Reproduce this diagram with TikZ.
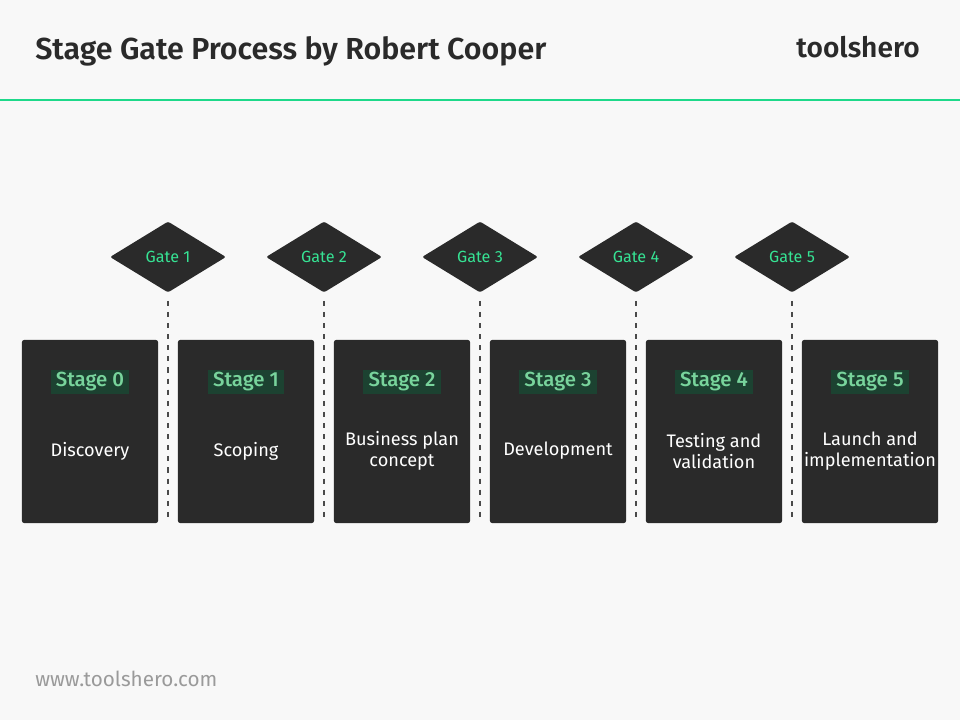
\documentclass[tikz,border=0pt]{standalone}
\usepackage{fontspec}
\setmainfont{Fira Sans}
\newfontfamily\semibold{Fira Sans SemiBold}
\newfontfamily\medium{Fira Sans Medium}
\usetikzlibrary{shapes.geometric}

\definecolor{bgpaper}{HTML}{F8F8F8}
\definecolor{darkbox}{HTML}{2A2A2A}
\definecolor{titlegray}{HTML}{2A2A2A}
\definecolor{shgreen}{HTML}{1ED98A}
\definecolor{gatetxt}{HTML}{36E394}
\definecolor{tagtxt}{HTML}{78D49C}
\definecolor{tagbg}{HTML}{1C4231}
\definecolor{linegray}{HTML}{4A4A4A}
\definecolor{urlgray}{HTML}{9A9A9A}

\begin{document}
\begin{tikzpicture}[x=0.025cm, y=-0.025cm,
  stagebox/.style={fill=darkbox, rounded corners=1.5pt, minimum width=3.4cm, minimum height=4.575cm, inner sep=0pt},
  gatebox/.style={diamond, fill=darkbox, rounded corners=1.5pt, minimum width=2.9cm, minimum height=1.775cm, aspect=1.63, inner sep=0pt, text=gatetxt, font=\fontsize{11.5}{13}\selectfont},
  stagetag/.style={fill=tagbg, text=tagtxt, inner xsep=0.13cm, inner ysep=0pt, minimum height=0.6cm, font=\fontsize{14.5}{16}\selectfont\medium},
  stagetext/.style={text=white, align=center, font=\fontsize{12.9}{15}\selectfont},
  gateline/.style={linegray, line width=1.4pt, dash pattern=on 3.6pt off 4.3pt}]
\fill[bgpaper] (0,0) rectangle (960,720);
\useasboundingbox (0,0) rectangle (960,720);

% header
\node[anchor=base west, inner sep=0pt, text=titlegray, font=\fontsize{21.6}{24}\selectfont\semibold] (title) at (35,60) {Stage Gate Process by Robert Cooper};
\node[anchor=base east, inner sep=0pt, text=titlegray, font=\fontsize{20}{24}\selectfont\semibold] (brand) at (920,58) {toolshero};
\draw[shgreen, line width=1.4pt] (0,100) -- (960,100);

% stages
\node[stagebox] (s0) at (90,431.5) {};
\node[stagebox] (s1) at (246,431.5) {};
\node[stagebox] (s2) at (402,431.5) {};
\node[stagebox] (s3) at (558,431.5) {};
\node[stagebox] (s4) at (714,431.5) {};
\node[stagebox] (s5) at (870,431.5) {};

\node[stagetag] (t0) at (90,382) {Stage 0};
\node[stagetag] (t1) at (246,382) {Stage 1};
\node[stagetag] (t2) at (402,382) {Stage 2};
\node[stagetag] (t3) at (558,382) {Stage 3};
\node[stagetag] (t4) at (714,382) {Stage 4};
\node[stagetag] (t5) at (870,382) {Stage 5};

\node[stagetext] (d0) at (90,451) {Discovery};
\node[stagetext] (d1) at (246,451) {Scoping};
\node[stagetext] (d2) at (402,451) {Business plan\\concept};
\node[stagetext] (d3) at (558,451) {Development};
\node[stagetext] (d4) at (714,451) {Testing and\\validation};
\node[stagetext] (d5) at (870,451) {Launch and\\implementation};

% gates
\node[gatebox] (g1) at (168,257) {Gate 1};
\node[gatebox] (g2) at (324,257) {Gate 2};
\node[gatebox] (g3) at (480,257) {Gate 3};
\node[gatebox] (g4) at (636,257) {Gate 4};
\node[gatebox] (g5) at (792,257) {Gate 5};

\coordinate (e1) at (168,520);
\coordinate (e2) at (324,520);
\coordinate (e3) at (480,520);
\coordinate (e4) at (636,520);
\coordinate (e5) at (792,520);
\draw[gateline] ([yshift=-5.7pt]g1.south) -- (e1);
\draw[gateline] ([yshift=-5.7pt]g2.south) -- (e2);
\draw[gateline] ([yshift=-5.7pt]g3.south) -- (e3);
\draw[gateline] ([yshift=-5.7pt]g4.south) -- (e4);
\draw[gateline] ([yshift=-5.7pt]g5.south) -- (e5);

% footer
\node[anchor=base west, inner sep=0pt, text=urlgray, font=\fontsize{14.7}{16}\selectfont] (url) at (35,686) {www.toolshero.com};
\end{tikzpicture}
\end{document}
